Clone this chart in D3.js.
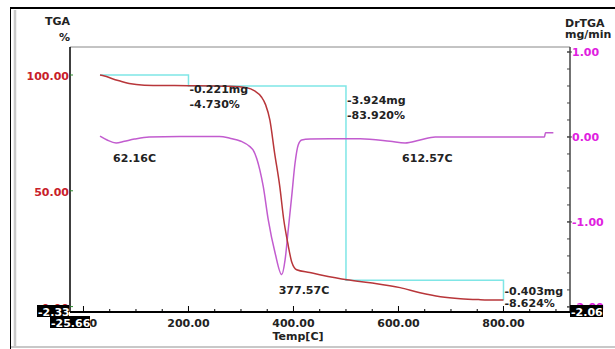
<!DOCTYPE html>
<meta charset="utf-8" />
<style>
  body { margin: 0; background: #fff; }
  text { font: bold 11px "DejaVu Sans", sans-serif; }
</style>
<body>
<script src="https://d3js.org/d3.v7.min.js"></script>
<script>
// TGA curve (% of initial mass) vs temperature
var tgaTemp = [31.5, 40, 55, 68, 87, 116, 150, 200, 278, 311, 326, 339, 347, 355, 364, 374, 381.5, 389, 397, 406, 431, 450, 502, 546, 603, 641, 680, 718, 756, 800];
var tgaMass = [100, 99.6, 98.4, 97.5, 96.3, 95.6, 95.5, 95.4, 95.1, 94.5, 93.1, 90.5, 87.1, 80.6, 66.4, 51.7, 37.5, 27.6, 19.0, 15.9, 14.7, 13.8, 11.6, 10.3, 8.2, 6.0, 4.3, 3.4, 3.0, 2.8];

// DrTGA curve (mg/min) vs temperature
var dtgTemp = [31.5, 45, 62.16, 78, 97, 125, 183, 259, 279, 300, 317, 323, 336, 342.5, 352, 365, 377.57, 384, 390, 396.6, 403, 409, 415.7, 431.5, 470, 527, 584, 612.57, 641, 670, 756, 878, 880, 895];
var dtgRate = [0.01, -0.035, -0.07, -0.05, -0.025, 0.0, 0.005, 0.005, -0.015, -0.05, -0.114, -0.153, -0.39, -0.585, -0.976, -1.365, -1.62, -1.447, -1.094, -0.70, -0.306, -0.094, -0.035, -0.024, -0.02, -0.02, -0.05, -0.07, -0.035, 0.0, 0.0, 0.0, 0.05, 0.05];

// step analysis: temperatures, levels and readouts
var stepTemp = [31.5, 200, 500, 800];
var stepLevel = [100, 95.27, 11.35, 2.726];
var stepMg = ["-0.221mg", "-3.924mg", "-0.403mg"];
var stepPct = ["-4.730%", "-83.920%", "-8.624%"];

// peak readouts
var peakTemp = [62.16, 377.57, 612.57];
var peakRate = [-0.07, -1.62, -0.07];
var peakLabel = ["62.16C", "377.57C", "612.57C"];

// axis ticks
var xMajor = [0, 200, 400, 600, 800];
var xMinor = d3.range(0, 901, 50);
var yLeftTicks = [0, 50, 100];
var yRightTicks = [-2, -1, 0, 1];
var yRightMinor = d3.range(-2, 1.01, 0.2);
var axisMin = { x: "-25.66", left: "-2.33", right: "-2.06" };

var W = 615, H = 349;
var plot = { left: 70, right: 570, top: 47, bottom: 312 };

var x = d3.scaleLinear().domain([-25.66, 926.7]).range([plot.left, plot.right]);
var yL = d3.scaleLinear().domain([-2.33, 112.09]).range([plot.bottom, plot.top]);
var yR = d3.scaleLinear().domain([-2.06, 1.059]).range([plot.bottom, plot.top]);

var svg = d3.select("body").append("svg").attr("width", W).attr("height", H);

// window frame
svg.append("line").attr("x1", 10).attr("x2", W).attr("y1", 8).attr("y2", 8)
  .attr("stroke", "#000").attr("stroke-width", 2);
svg.append("line").attr("x1", 10.5).attr("x2", 10.5).attr("y1", 8).attr("y2", H)
  .attr("stroke", "#000").attr("stroke-width", 1);
svg.append("line").attr("x1", 15).attr("x2", 15).attr("y1", 10).attr("y2", 346)
  .attr("stroke", "#c8c8c8").attr("stroke-width", 2.5);
svg.append("line").attr("x1", 11).attr("x2", W).attr("y1", 347).attr("y2", 347)
  .attr("stroke", "#c8c8c8").attr("stroke-width", 2);

// plot box
svg.append("line").attr("x1", plot.left).attr("x2", plot.right).attr("y1", plot.top).attr("y2", plot.top)
  .attr("stroke", "#888").attr("stroke-width", 1);
svg.append("line").attr("x1", plot.right).attr("x2", plot.right).attr("y1", plot.top).attr("y2", plot.bottom)
  .attr("stroke", "#444").attr("stroke-width", 1.5);
svg.append("line").attr("x1", plot.left).attr("x2", plot.left).attr("y1", plot.top).attr("y2", plot.bottom)
  .attr("stroke", "#000").attr("stroke-width", 1.5);
svg.append("line").attr("x1", plot.left).attr("x2", plot.right).attr("y1", plot.bottom).attr("y2", plot.bottom)
  .attr("stroke", "#000").attr("stroke-width", 2);

// bottom ticks (inward)
svg.selectAll(".xminor").data(xMinor).enter().append("line")
  .attr("x1", function (d) { return x(d); }).attr("x2", function (d) { return x(d); })
  .attr("y1", plot.bottom).attr("y2", function (d) { return plot.bottom - (d % 200 === 0 ? 6 : 3); })
  .attr("stroke", "#000").attr("stroke-width", 1);
svg.selectAll(".xlab").data(xMajor).enter().append("text")
  .attr("x", function (d) { return x(d); }).attr("y", 327)
  .attr("text-anchor", "middle").attr("fill", "#222")
  .text(function (d) { return d.toFixed(2); });

// left axis ticks + labels
svg.selectAll(".ltick").data(yLeftTicks).enter().append("line")
  .attr("x1", plot.left).attr("x2", plot.left + 3)
  .attr("y1", function (d) { return yL(d); }).attr("y2", function (d) { return yL(d); })
  .attr("stroke", "#2a8a2a").attr("stroke-width", 1);
svg.selectAll(".llab").data(yLeftTicks).enter().append("text")
  .attr("x", plot.left - 1).attr("y", function (d) { return yL(d) + 5; })
  .attr("text-anchor", "end").attr("fill", "#c8202a")
  .text(function (d) { return d.toFixed(2); });

// right axis ticks + labels
svg.selectAll(".rminor").data(yRightMinor).enter().append("line")
  .attr("x1", plot.right - 3).attr("x2", plot.right)
  .attr("y1", function (d) { return yR(d); }).attr("y2", function (d) { return yR(d); })
  .attr("stroke", "#444").attr("stroke-width", 1);
svg.selectAll(".rtick").data(yRightTicks).enter().append("line")
  .attr("x1", plot.right - 3).attr("x2", plot.right + 2)
  .attr("y1", function (d) { return yR(d); }).attr("y2", function (d) { return yR(d); })
  .attr("stroke", "#444").attr("stroke-width", 1);
svg.selectAll(".rlab").data(yRightTicks).enter().append("text")
  .attr("x", plot.right + 2).attr("y", function (d) { return yR(d) + 4; })
  .attr("fill", "#e020e0")
  .text(function (d) { return d.toFixed(2); });

// axis titles
svg.append("text").attr("x", 70).attr("y", 25).attr("text-anchor", "end").attr("fill", "#222").text("TGA");
svg.append("text").attr("x", 70).attr("y", 41).attr("text-anchor", "end").attr("fill", "#222").text("%");
svg.append("text").attr("x", 565).attr("y", 27).attr("fill", "#222").text("DrTGA");
svg.append("text").attr("x", 565).attr("y", 38).attr("fill", "#222").text("mg/min");
svg.append("text").attr("x", 298).attr("y", 340).attr("text-anchor", "middle").attr("fill", "#222").text("Temp[C]");

// step line (cyan)
var stepLine = d3.line()
  .x(function (d) { return x(d[0]); })
  .y(function (d) { return yL(d[1]); })
  .curve(d3.curveStepAfter);
svg.append("path")
  .datum(d3.zip(stepTemp, stepLevel))
  .attr("d", stepLine)
  .attr("fill", "none").attr("stroke", "#7fe6e6").attr("stroke-width", 1.5);

// DrTGA curve
var dtgLine = d3.line()
  .x(function (d) { return x(d[0]); })
  .y(function (d) { return yR(d[1]); })
  .curve(d3.curveMonotoneX);
svg.append("path")
  .datum(d3.zip(dtgTemp, dtgRate))
  .attr("d", dtgLine)
  .attr("fill", "none").attr("stroke", "#c25ccf").attr("stroke-width", 1.5);

// TGA curve
var tgaLine = d3.line()
  .x(function (d) { return x(d[0]); })
  .y(function (d) { return yL(d[1]); })
  .curve(d3.curveMonotoneX);
svg.append("path")
  .datum(d3.zip(tgaTemp, tgaMass))
  .attr("d", tgaLine)
  .attr("fill", "none").attr("stroke", "#b8363a").attr("stroke-width", 1.5);

// step readouts
var stepDy = [18, 18, 15];
stepMg.forEach(function (s, i) {
  var sx = x(stepTemp[i + 1]) + 1;
  var sy = yL(stepLevel[i]) + stepDy[i];
  svg.append("text").attr("x", sx).attr("y", sy).attr("fill", "#222").text(s);
  svg.append("text").attr("x", sx).attr("y", sy + 15 - (i === 2 ? 3 : 0)).attr("fill", "#222").text(stepPct[i]);
});

// peak readouts
peakLabel.forEach(function (s, i) {
  svg.append("text")
    .attr("x", x(peakTemp[i]) - 3)
    .attr("y", yR(peakRate[i]) + 19)
    .attr("fill", "#222").text(s);
});

// black readout boxes for axis minima
function readout(txt, bx, by, bw) {
  svg.append("rect").attr("x", bx).attr("y", by).attr("width", bw).attr("height", 12).attr("fill", "#000");
  svg.append("text").attr("x", bx + 1).attr("y", by + 10.5).attr("fill", "#fff").text(txt);
}
readout(axisMin.left, 37, 305, 32);
readout(axisMin.x, 50, 316, 40);
readout(axisMin.right, 570, 305, 33);
</script>
</body>
